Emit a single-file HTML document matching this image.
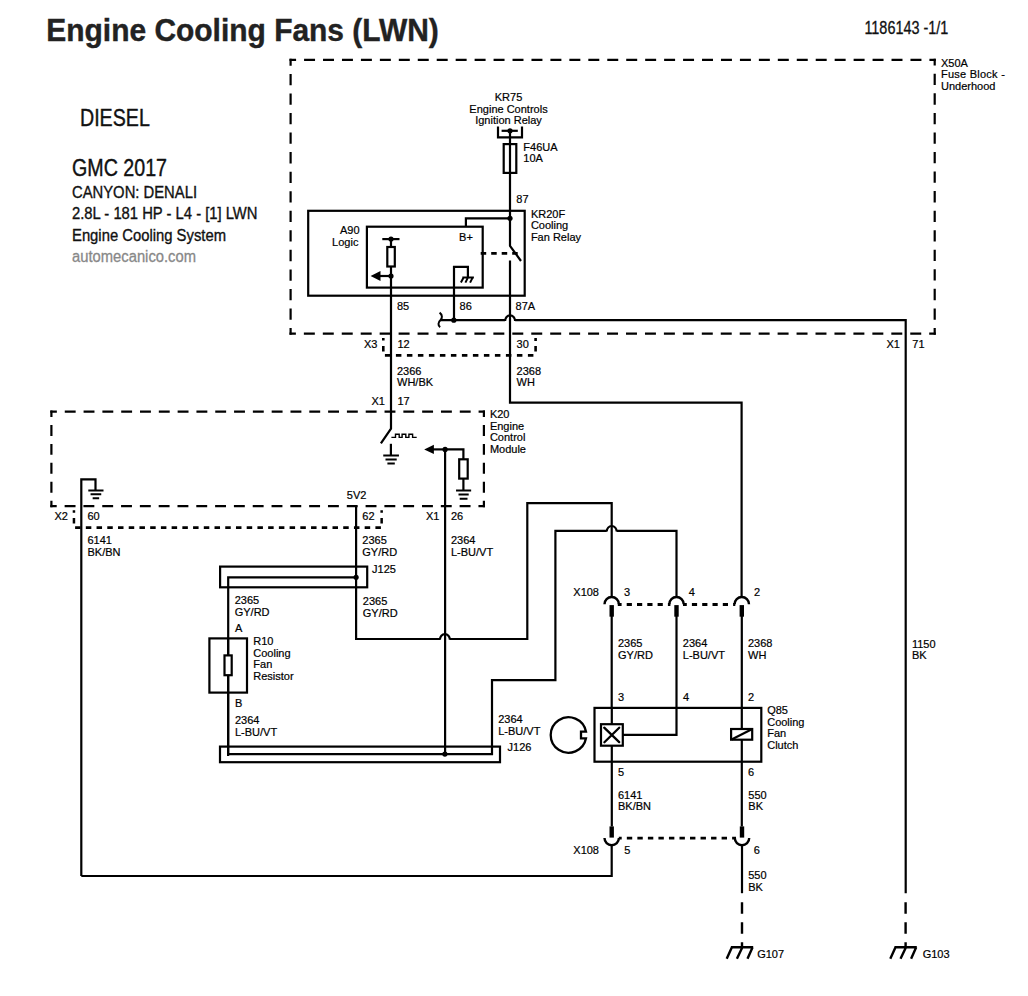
<!DOCTYPE html>
<html><head><meta charset="utf-8"><style>
html,body{margin:0;padding:0;background:#fff;overflow:hidden;width:1028px;height:996px;}
svg{display:block;font-family:"Liberation Sans",sans-serif;}
</style></head><body>
<svg width="1028" height="996" viewBox="0 0 1028 996">
<rect width="1028" height="996" fill="#fff"/>
<text x="46.3" y="40.5" font-size="31.4" font-weight="bold" fill="#222" stroke="#222" stroke-width="0.4" textLength="392.5" lengthAdjust="spacingAndGlyphs">Engine Cooling Fans (LWN)</text>
<text x="864.4" y="33.5" font-size="17.5" fill="#111" stroke="#111" stroke-width="0.3" textLength="84" lengthAdjust="spacingAndGlyphs">1186143 -1/1</text>
<text x="80" y="126" font-size="23" fill="#111" stroke="#111" stroke-width="0.4" textLength="69.8" lengthAdjust="spacingAndGlyphs">DIESEL</text>
<text x="72" y="176.2" font-size="23" fill="#111" stroke="#111" stroke-width="0.4" textLength="95" lengthAdjust="spacingAndGlyphs">GMC 2017</text>
<text x="72" y="197.7" font-size="16" fill="#111" stroke="#111" stroke-width="0.35" textLength="125" lengthAdjust="spacingAndGlyphs">CANYON: DENALI</text>
<text x="72" y="219.4" font-size="16" fill="#111" stroke="#111" stroke-width="0.35" textLength="185.5" lengthAdjust="spacingAndGlyphs">2.8L - 181 HP - L4 - [1] LWN</text>
<text x="72" y="240.9" font-size="16" fill="#111" stroke="#111" stroke-width="0.35" textLength="154" lengthAdjust="spacingAndGlyphs">Engine Cooling System</text>
<text x="72" y="262.3" font-size="16" fill="#888" stroke="#888" stroke-width="0.3" textLength="124" lengthAdjust="spacingAndGlyphs">automecanico.com</text>
<path d="M289.50,59.90 L935.80,59.90" stroke="#000" stroke-width="2.2" fill="none" stroke-dasharray="10.97 7.98" stroke-dashoffset="4.38"/>
<path d="M934.70,58.80 L934.70,334.80" stroke="#000" stroke-width="2.2" fill="none" stroke-dasharray="11.32 8.23" stroke-dashoffset="4.56"/>
<path d="M935.80,333.70 L289.50,333.70" stroke="#000" stroke-width="2.2" fill="none" stroke-dasharray="10.97 7.98" stroke-dashoffset="4.38"/>
<path d="M290.60,334.80 L290.60,58.80" stroke="#000" stroke-width="2.2" fill="none" stroke-dasharray="11.32 8.23" stroke-dashoffset="4.56"/>
<text x="941" y="66.7" font-size="11" text-anchor="start" fill="#000" stroke="#000" stroke-width="0.2" >X50A</text>
<text x="941" y="78.2" font-size="11" text-anchor="start" fill="#000" stroke="#000" stroke-width="0.2" textLength="63.8" lengthAdjust="spacing">Fuse Block -</text>
<text x="941" y="89.6" font-size="11" text-anchor="start" fill="#000" stroke="#000" stroke-width="0.2" >Underhood</text>
<text x="508.5" y="101.3" font-size="11" text-anchor="middle" fill="#000" stroke="#000" stroke-width="0.2" >KR75</text>
<text x="508.5" y="112.85" font-size="11" text-anchor="middle" fill="#000" stroke="#000" stroke-width="0.2" >Engine Controls</text>
<text x="508.5" y="124.4" font-size="11" text-anchor="middle" fill="#000" stroke="#000" stroke-width="0.2" >Ignition Relay</text>
<path d="M498,126.6 V137.4 H522 V126.6" fill="none" stroke="#000" stroke-width="2.2" />
<path d="M501.6,130.8 H517.8" fill="none" stroke="#000" stroke-width="2.2" />
<circle cx="510" cy="130.8" r="2.6" fill="#000"/>
<path d="M510,130.8 V245.8 L521,261" fill="none" stroke="#000" stroke-width="2.2" />
<rect x="503.7" y="144.1" width="12.60" height="28.80" fill="none" stroke="#000" stroke-width="2.2"/>
<text x="523.3" y="150.7" font-size="11" text-anchor="start" fill="#000" stroke="#000" stroke-width="0.2" >F46UA</text>
<text x="523.3" y="162.25" font-size="11" text-anchor="start" fill="#000" stroke="#000" stroke-width="0.2" >10A</text>
<text x="516.3" y="202.8" font-size="11" text-anchor="start" fill="#000" stroke="#000" stroke-width="0.2" >87</text>
<text x="530.9" y="217.6" font-size="11" text-anchor="start" fill="#000" stroke="#000" stroke-width="0.2" >KR20F</text>
<text x="530.9" y="229.15" font-size="11" text-anchor="start" fill="#000" stroke="#000" stroke-width="0.2" >Cooling</text>
<text x="530.9" y="240.7" font-size="11" text-anchor="start" fill="#000" stroke="#000" stroke-width="0.2" >Fan Relay</text>
<rect x="308.2" y="210.8" width="216.50" height="84.90" fill="none" stroke="#000" stroke-width="2.2"/>
<rect x="366.9" y="226.7" width="115.80" height="60.90" fill="none" stroke="#000" stroke-width="2.2"/>
<text x="359.5" y="233.5" font-size="11" text-anchor="end" fill="#000" stroke="#000" stroke-width="0.2" >A90</text>
<text x="358.4" y="245.6" font-size="11" text-anchor="end" fill="#000" stroke="#000" stroke-width="0.2" >Logic</text>
<path d="M382.3,239.1 H399.5" fill="none" stroke="#000" stroke-width="2.2" />
<circle cx="391" cy="239.1" r="2.6" fill="#000"/>
<rect x="387.3" y="247" width="7.50" height="19.50" fill="none" stroke="#000" stroke-width="2.2"/>
<path d="M391,239.1 V247 M391,266.5 V428.6 L380.9,443.4" fill="none" stroke="#000" stroke-width="2.2" />
<path d="M391,276 H379" fill="none" stroke="#000" stroke-width="2.2" />
<path d="M370.6,276 L380.5,271 L380.5,281 Z" fill="#000"/>
<circle cx="391" cy="276" r="2.6" fill="#000"/>
<text x="459.1" y="240.5" font-size="11" text-anchor="start" fill="#000" stroke="#000" stroke-width="0.2" >B+</text>
<path d="M465.9,226.7 V218.3 H510" fill="none" stroke="#000" stroke-width="2.2" />
<circle cx="510" cy="218.3" r="2.6" fill="#000"/>
<path d="M454,320.2 V266.8 H467.9 V277.3" fill="none" stroke="#000" stroke-width="2.2" />
<path d="M462.3,277.6 H473.9 M463.6,277.6 L460.9,282.6 M467.9,277.6 L465.4,282.6 M472.6,277.6 L470.1,282.6" fill="none" stroke="#000" stroke-width="2.0" />
<path d="M480.7,253.4 H518" stroke="#000" stroke-width="2.9" fill="none" stroke-dasharray="5.5 5.0" stroke-dashoffset="0"/>
<path d="M510,260.4 V402.6 H741.6 V597" fill="none" stroke="#000" stroke-width="2.2" />
<text x="397" y="310.4" font-size="11" text-anchor="start" fill="#000" stroke="#000" stroke-width="0.2" >85</text>
<text x="459.6" y="310.4" font-size="11" text-anchor="start" fill="#000" stroke="#000" stroke-width="0.2" >86</text>
<text x="515.6" y="310.4" font-size="11" text-anchor="start" fill="#000" stroke="#000" stroke-width="0.2" >87A</text>
<path d="M440.3,320.2 H505.10 V321.00 A5.0,5.6 0 0 1 515.10,321.00 V320.2 H905.7 V893.2" fill="none" stroke="#000" stroke-width="2.2" />
<path d="M439.6,312.6 C442.6,314.8 442.4,318.2 440.5,320 C438.2,322 437.6,325.6 440.2,327.2" fill="none" stroke="#000" stroke-width="2.0" />
<circle cx="453.8" cy="320.2" r="2.6" fill="#000"/>
<path d="M382,337.9 h2.6 v2.7 h-2.6z M382,346 h2.6 v5.5 h-2.6z" fill="#000"/>
<path d="M384.9,355.4 H534" stroke="#000" stroke-width="2.9" fill="none" stroke-dasharray="5.5 5.5" stroke-dashoffset="0"/>
<path d="M534.3,338 h2.6 v2.9 h-2.6z M534.3,346 h2.6 v5.4 h-2.6z" fill="#000"/>
<text x="363.9" y="348" font-size="11" text-anchor="start" fill="#000" stroke="#000" stroke-width="0.2" >X3</text>
<text x="397.4" y="348" font-size="11" text-anchor="start" fill="#000" stroke="#000" stroke-width="0.2" >12</text>
<text x="516.6" y="348" font-size="11" text-anchor="start" fill="#000" stroke="#000" stroke-width="0.2" >30</text>
<text x="397" y="374.6" font-size="11" text-anchor="start" fill="#000" stroke="#000" stroke-width="0.2" >2366</text>
<text x="397" y="386.15" font-size="11" text-anchor="start" fill="#000" stroke="#000" stroke-width="0.2" >WH/BK</text>
<text x="516.6" y="374.6" font-size="11" text-anchor="start" fill="#000" stroke="#000" stroke-width="0.2" >2368</text>
<text x="516.6" y="386.15" font-size="11" text-anchor="start" fill="#000" stroke="#000" stroke-width="0.2" >WH</text>
<text x="385" y="404.6" font-size="11" text-anchor="end" fill="#000" stroke="#000" stroke-width="0.2" >X1</text>
<text x="397.4" y="404.6" font-size="11" text-anchor="start" fill="#000" stroke="#000" stroke-width="0.2" >17</text>
<path d="M50.30,411.60 L485.00,411.60" stroke="#000" stroke-width="2.2" fill="none" stroke-dasharray="10.89 7.92" stroke-dashoffset="4.34"/>
<path d="M483.90,410.50 L483.90,507.20" stroke="#000" stroke-width="2.2" fill="none" stroke-dasharray="10.94 7.96" stroke-dashoffset="4.37"/>
<path d="M485.00,506.10 L50.30,506.10" stroke="#000" stroke-width="2.2" fill="none" stroke-dasharray="10.89 7.92" stroke-dashoffset="4.34"/>
<path d="M51.40,507.20 L51.40,410.50" stroke="#000" stroke-width="2.2" fill="none" stroke-dasharray="10.94 7.96" stroke-dashoffset="4.37"/>
<text x="489.9" y="418.1" font-size="11" text-anchor="start" fill="#000" stroke="#000" stroke-width="0.2" >K20</text>
<text x="489.9" y="429.65" font-size="11" text-anchor="start" fill="#000" stroke="#000" stroke-width="0.2" >Engine</text>
<text x="489.9" y="441.2" font-size="11" text-anchor="start" fill="#000" stroke="#000" stroke-width="0.2" >Control</text>
<text x="489.9" y="452.75" font-size="11" text-anchor="start" fill="#000" stroke="#000" stroke-width="0.2" >Module</text>
<path d="M391.4,437.4 H395.5 V434.3 H399.2 V437.4 H402.1 V434.3 H405.8 V437.4 H408.9 V434.3 H412.6 V437.4 H416.7" fill="none" stroke="#000" stroke-width="1.4" />
<path d="M390.9,443.8 V455.4" fill="none" stroke="#000" stroke-width="2.2" />
<path d="M383.25,455.4 H398.95000000000005 M385.5,459.5 H396.70000000000005 M387.40000000000003,463.59999999999997 H394.8" fill="none" stroke="#000" stroke-width="2.0" />
<path d="M445.1,449.4 H463.4 V459.3" fill="none" stroke="#000" stroke-width="2.2" />
<rect x="459.2" y="459.3" width="8.50" height="19.30" fill="none" stroke="#000" stroke-width="2.2"/>
<path d="M463.4,478.6 V490.4" fill="none" stroke="#000" stroke-width="2.2" />
<path d="M456.05,490.4 H471.15000000000003 M458.5,494.59999999999997 H468.70000000000005 M459.70000000000005,498.79999999999995 H467.5" fill="none" stroke="#000" stroke-width="2.0" />
<path d="M445.1,449.4 H433" fill="none" stroke="#000" stroke-width="2.2" />
<path d="M424.2,449.4 L433.9,444.7 L433.9,454.09999999999997 Z" fill="#000"/>
<circle cx="445.1" cy="449.4" r="2.6" fill="#000"/>
<path d="M445.1,449.4 V754.1" fill="none" stroke="#000" stroke-width="2.2" />
<path d="M81.3,876 V479.4 H95.5 V490.5" fill="none" stroke="#000" stroke-width="2.2" />
<path d="M88.30000000000001,490.5 H103.5 M90.55000000000001,494.35 H101.25 M92.65,498.2 H99.15" fill="none" stroke="#000" stroke-width="2.0" />
<path d="M72.7,510.2 h2.5 v2.6 h-2.5z M72.7,518.1 h2.5 v5.5 h-2.5z" fill="#000"/>
<path d="M75.1,527.7 H380.9" stroke="#000" stroke-width="2.8" fill="none" stroke-dasharray="5.5 5.225" stroke-dashoffset="0"/>
<path d="M380.4,510.2 h2.5 v2.6 h-2.5z M380.4,518.1 h2.5 v5.5 h-2.5z" fill="#000"/>
<text x="54.5" y="520.3" font-size="11" text-anchor="start" fill="#000" stroke="#000" stroke-width="0.2" >X2</text>
<text x="87.5" y="520.3" font-size="11" text-anchor="start" fill="#000" stroke="#000" stroke-width="0.2" >60</text>
<text x="87.5" y="544.2" font-size="11" text-anchor="start" fill="#000" stroke="#000" stroke-width="0.2" >6141</text>
<text x="87.5" y="555.75" font-size="11" text-anchor="start" fill="#000" stroke="#000" stroke-width="0.2" >BK/BN</text>
<text x="346.8" y="498.7" font-size="11" text-anchor="start" fill="#000" stroke="#000" stroke-width="0.2" >5V2</text>
<text x="362.3" y="520.2" font-size="11" text-anchor="start" fill="#000" stroke="#000" stroke-width="0.2" >62</text>
<text x="439.5" y="520.2" font-size="11" text-anchor="end" fill="#000" stroke="#000" stroke-width="0.2" >X1</text>
<text x="451" y="520.2" font-size="11" text-anchor="start" fill="#000" stroke="#000" stroke-width="0.2" >26</text>
<text x="362.3" y="544.1" font-size="11" text-anchor="start" fill="#000" stroke="#000" stroke-width="0.2" >2365</text>
<text x="362.3" y="555.65" font-size="11" text-anchor="start" fill="#000" stroke="#000" stroke-width="0.2" >GY/RD</text>
<text x="451" y="544.1" font-size="11" text-anchor="start" fill="#000" stroke="#000" stroke-width="0.2" >2364</text>
<text x="451" y="555.65" font-size="11" text-anchor="start" fill="#000" stroke="#000" stroke-width="0.2" >L-BU/VT</text>
<path d="M356.1,506.1 V639 H439.90 V639.80 A5.0,5.6 0 0 1 449.90,639.80 V639 H527.3 V503.1 H611.7 V597" fill="none" stroke="#000" stroke-width="2.2" />
<rect x="220.1" y="566.6" width="147.10" height="20.70" fill="none" stroke="#000" stroke-width="2.2"/>
<circle cx="356.1" cy="577.3" r="2.6" fill="#000"/>
<text x="372.1" y="573.4" font-size="11" text-anchor="start" fill="#000" stroke="#000" stroke-width="0.2" >J125</text>
<text x="362.8" y="605.0" font-size="11" text-anchor="start" fill="#000" stroke="#000" stroke-width="0.2" >2365</text>
<text x="362.8" y="616.55" font-size="11" text-anchor="start" fill="#000" stroke="#000" stroke-width="0.2" >GY/RD</text>
<text x="234.7" y="604.3" font-size="11" text-anchor="start" fill="#000" stroke="#000" stroke-width="0.2" >2365</text>
<text x="234.7" y="615.85" font-size="11" text-anchor="start" fill="#000" stroke="#000" stroke-width="0.2" >GY/RD</text>
<path d="M356.1,577.3 H228.2 V754.1 H492 V680.2 H555.4 V530.8 H606.70 V531.60 A5.0,5.6 0 0 1 616.70,531.60 V530.8 H676.5 V597" fill="none" stroke="#000" stroke-width="2.2" />
<path d="M228.1,638 V756" fill="none" stroke="#000" stroke-width="2.2" />
<rect x="209.4" y="638.4" width="37.60" height="54.20" fill="none" stroke="#000" stroke-width="2.2"/>
<rect x="224.5" y="655.4" width="7.20" height="19.80" fill="#fff" stroke="#000" stroke-width="2.2"/>
<text x="235" y="631.6" font-size="11" text-anchor="start" fill="#000" stroke="#000" stroke-width="0.2" >A</text>
<text x="235" y="706.7" font-size="11" text-anchor="start" fill="#000" stroke="#000" stroke-width="0.2" >B</text>
<text x="253.3" y="645.3" font-size="11" text-anchor="start" fill="#000" stroke="#000" stroke-width="0.2" >R10</text>
<text x="253.3" y="656.85" font-size="11" text-anchor="start" fill="#000" stroke="#000" stroke-width="0.2" >Cooling</text>
<text x="253.3" y="668.4" font-size="11" text-anchor="start" fill="#000" stroke="#000" stroke-width="0.2" >Fan</text>
<text x="253.3" y="679.95" font-size="11" text-anchor="start" fill="#000" stroke="#000" stroke-width="0.2" >Resistor</text>
<text x="235" y="724.0" font-size="11" text-anchor="start" fill="#000" stroke="#000" stroke-width="0.2" >2364</text>
<text x="235" y="735.55" font-size="11" text-anchor="start" fill="#000" stroke="#000" stroke-width="0.2" >L-BU/VT</text>
<rect x="220" y="746.6" width="280.00" height="15.60" fill="none" stroke="#000" stroke-width="2.2"/>
<circle cx="444.9" cy="754.1" r="2.6" fill="#000"/>
<text x="507.6" y="751" font-size="11" text-anchor="start" fill="#000" stroke="#000" stroke-width="0.2" >J126</text>
<text x="498.2" y="723.1" font-size="11" text-anchor="start" fill="#000" stroke="#000" stroke-width="0.2" >2364</text>
<text x="498.2" y="734.65" font-size="11" text-anchor="start" fill="#000" stroke="#000" stroke-width="0.2" >L-BU/VT</text>
<path d="M604.5,604.2 A7.2,7.2 0 0 1 618.9000000000001,604.2" fill="none" stroke="#000" stroke-width="2.4" />
<rect x="609.5" y="605.1" width="4.4" height="11.6" fill="#000"/>
<path d="M611.7,616 V707.9" fill="none" stroke="#000" stroke-width="2.2" />
<path d="M669.3,604.2 A7.2,7.2 0 0 1 683.7,604.2" fill="none" stroke="#000" stroke-width="2.4" />
<rect x="674.3" y="605.1" width="4.4" height="11.6" fill="#000"/>
<path d="M676.5,616 V707.9" fill="none" stroke="#000" stroke-width="2.2" />
<path d="M734.5999999999999,604.2 A7.2,7.2 0 0 1 749.0,604.2" fill="none" stroke="#000" stroke-width="2.4" />
<rect x="739.5999999999999" y="605.1" width="4.4" height="11.6" fill="#000"/>
<path d="M741.8,616 V707.9" fill="none" stroke="#000" stroke-width="2.2" />
<path d="M617.8,604.5 H670.4" stroke="#000" stroke-width="2.9" fill="none" stroke-dasharray="5.2 5.1" stroke-dashoffset="1.4"/>
<path d="M683.0,604.5 H735.3" stroke="#000" stroke-width="2.9" fill="none" stroke-dasharray="5.2 5.1" stroke-dashoffset="1.4"/>
<text x="573.3" y="596.1" font-size="11" text-anchor="start" fill="#000" stroke="#000" stroke-width="0.2" >X108</text>
<text x="624" y="596.3" font-size="11" text-anchor="start" fill="#000" stroke="#000" stroke-width="0.2" >3</text>
<text x="688.8" y="596.3" font-size="11" text-anchor="start" fill="#000" stroke="#000" stroke-width="0.2" >4</text>
<text x="754" y="596.3" font-size="11" text-anchor="start" fill="#000" stroke="#000" stroke-width="0.2" >2</text>
<text x="618" y="647.0" font-size="11" text-anchor="start" fill="#000" stroke="#000" stroke-width="0.2" >2365</text>
<text x="618" y="658.55" font-size="11" text-anchor="start" fill="#000" stroke="#000" stroke-width="0.2" >GY/RD</text>
<text x="682.8" y="647.0" font-size="11" text-anchor="start" fill="#000" stroke="#000" stroke-width="0.2" >2364</text>
<text x="682.8" y="658.55" font-size="11" text-anchor="start" fill="#000" stroke="#000" stroke-width="0.2" >L-BU/VT</text>
<text x="748" y="647.0" font-size="11" text-anchor="start" fill="#000" stroke="#000" stroke-width="0.2" >2368</text>
<text x="748" y="658.55" font-size="11" text-anchor="start" fill="#000" stroke="#000" stroke-width="0.2" >WH</text>
<rect x="594.5" y="707.9" width="166.80" height="53.80" fill="none" stroke="#000" stroke-width="2.2"/>
<path d="M611.8,707.9 V826.5" fill="none" stroke="#000" stroke-width="2.2" />
<path d="M741.8,707.9 V826.5" fill="none" stroke="#000" stroke-width="2.2" />
<path d="M676.5,707.9 V734.9 H622.3" fill="none" stroke="#000" stroke-width="2.2" />
<rect x="601.0" y="724.2" width="21.80" height="21.50" fill="#fff" stroke="#000" stroke-width="2.2"/>
<path d="M604.2,727.7 L619.2,742.1 M619.2,727.7 L604.4,742.2" fill="none" stroke="#000" stroke-width="2.3" stroke-linecap="round"/>
<rect x="731.1" y="729" width="21.10" height="10.70" fill="#fff" stroke="#000" stroke-width="2.2"/>
<path d="M731.6,739.4 L751.8,729.3" fill="none" stroke="#000" stroke-width="2.2" />
<path d="M586.0,731.7 A17.8,17.8 0 1 0 586.0,738.3 H581 V731.7 Z" fill="none" stroke="#000" stroke-width="2.3"/>
<text x="618" y="700.7" font-size="11" text-anchor="start" fill="#000" stroke="#000" stroke-width="0.2" >3</text>
<text x="683" y="700.7" font-size="11" text-anchor="start" fill="#000" stroke="#000" stroke-width="0.2" >4</text>
<text x="748.1" y="700.7" font-size="11" text-anchor="start" fill="#000" stroke="#000" stroke-width="0.2" >2</text>
<text x="618" y="776" font-size="11" text-anchor="start" fill="#000" stroke="#000" stroke-width="0.2" >5</text>
<text x="748.1" y="776" font-size="11" text-anchor="start" fill="#000" stroke="#000" stroke-width="0.2" >6</text>
<text x="767.2" y="714.0" font-size="11" text-anchor="start" fill="#000" stroke="#000" stroke-width="0.2" >Q85</text>
<text x="767.2" y="725.55" font-size="11" text-anchor="start" fill="#000" stroke="#000" stroke-width="0.2" >Cooling</text>
<text x="767.2" y="737.1" font-size="11" text-anchor="start" fill="#000" stroke="#000" stroke-width="0.2" >Fan</text>
<text x="767.2" y="748.65" font-size="11" text-anchor="start" fill="#000" stroke="#000" stroke-width="0.2" >Clutch</text>
<text x="618" y="798.6" font-size="11" text-anchor="start" fill="#000" stroke="#000" stroke-width="0.2" >6141</text>
<text x="618" y="810.15" font-size="11" text-anchor="start" fill="#000" stroke="#000" stroke-width="0.2" >BK/BN</text>
<text x="748.3" y="798.6" font-size="11" text-anchor="start" fill="#000" stroke="#000" stroke-width="0.2" >550</text>
<text x="748.3" y="810.15" font-size="11" text-anchor="start" fill="#000" stroke="#000" stroke-width="0.2" >BK</text>
<rect x="609.5" y="826.4" width="4.4" height="11.2" fill="#000"/>
<path d="M604.5,838.1 A7.2,7.2 0 0 0 618.9000000000001,838.1" fill="none" stroke="#000" stroke-width="2.4" />
<rect x="739.8" y="826.4" width="4.4" height="11.2" fill="#000"/>
<path d="M734.8,838.1 A7.2,7.2 0 0 0 749.2,838.1" fill="none" stroke="#000" stroke-width="2.4" />
<path d="M618.8,838.1 H736" stroke="#000" stroke-width="2.9" fill="none" stroke-dasharray="5.4 5.13" stroke-dashoffset="2.5"/>
<text x="573.3" y="854.2" font-size="11" text-anchor="start" fill="#000" stroke="#000" stroke-width="0.2" >X108</text>
<text x="624.2" y="854.2" font-size="11" text-anchor="start" fill="#000" stroke="#000" stroke-width="0.2" >5</text>
<text x="753.7" y="854.2" font-size="11" text-anchor="start" fill="#000" stroke="#000" stroke-width="0.2" >6</text>
<path d="M611.7,845.3 V876 H81.3" fill="none" stroke="#000" stroke-width="2.2" />
<path d="M742,845.3 V893.2" fill="none" stroke="#000" stroke-width="2.2" />
<text x="748.2" y="879.3" font-size="11" text-anchor="start" fill="#000" stroke="#000" stroke-width="0.2" >550</text>
<text x="748.2" y="890.85" font-size="11" text-anchor="start" fill="#000" stroke="#000" stroke-width="0.2" >BK</text>
<path d="M742.0,902.2 V913.7 M742.0,922.2 V933.8 M742.0,942.3 V947.5" stroke="#000" stroke-width="2.4" fill="none"/>
<path d="M905.6,902.2 V913.7 M905.6,922.2 V933.8 M905.6,942.3 V947.5" stroke="#000" stroke-width="2.4" fill="none"/>
<path d="M730.9,947.2 H753.2 M731.9,947.2 L726.7,958.7 M742.4,947.2 L736.9,958.7 M752.6,947.2 L747.5,958.7" fill="none" stroke="#000" stroke-width="2.4" />
<path d="M894.5,947.2 H916.8000000000001 M895.5,947.2 L890.3000000000001,958.7 M906.0,947.2 L900.5,958.7 M916.2,947.2 L911.1,958.7" fill="none" stroke="#000" stroke-width="2.4" />
<text x="757.2" y="957.8" font-size="11" text-anchor="start" fill="#000" stroke="#000" stroke-width="0.2" >G107</text>
<text x="922.7" y="957.8" font-size="11" text-anchor="start" fill="#000" stroke="#000" stroke-width="0.2" >G103</text>
<text x="911.9" y="647.6" font-size="11" text-anchor="start" fill="#000" stroke="#000" stroke-width="0.2" >1150</text>
<text x="911.9" y="659.15" font-size="11" text-anchor="start" fill="#000" stroke="#000" stroke-width="0.2" >BK</text>
<text x="899.9" y="347.7" font-size="11" text-anchor="end" fill="#000" stroke="#000" stroke-width="0.2" >X1</text>
<text x="912.3" y="347.7" font-size="11" text-anchor="start" fill="#000" stroke="#000" stroke-width="0.2" >71</text>
</svg></body></html>
